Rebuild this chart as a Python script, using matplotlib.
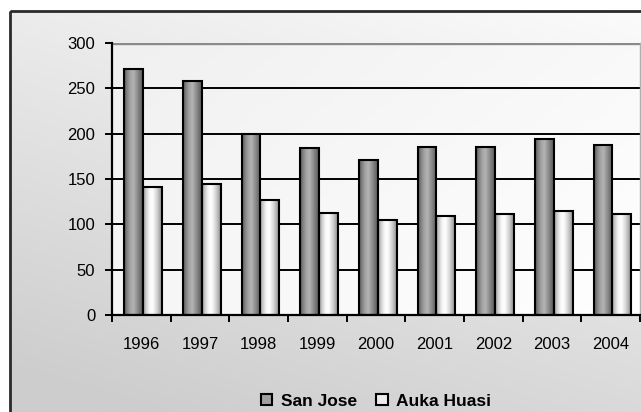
import numpy as np
import matplotlib
matplotlib.use('Agg')
import matplotlib.pyplot as plt
from matplotlib.colors import LinearSegmentedColormap
from matplotlib.patches import Rectangle, Patch

years = ['1996', '1997', '1998', '1999', '2000', '2001', '2002', '2003', '2004']
san_jose = [271, 258, 200, 184, 171, 185, 185, 194, 187]
auka_huasi = [141, 144, 127, 113, 105, 109, 111, 115, 111]
series_names = ['San Jose', 'Auka Huasi']

plt.rcParams['font.family'] = ['Liberation Sans', 'DejaVu Sans']

W, H = 641, 412
fig = plt.figure(figsize=(W / 100, H / 100), dpi=100)
fig.patch.set_facecolor('white')

###background of the chart area, diagonal gradient###
bg = fig.add_axes([0, 0, 1, 1], zorder=0)
bg.set_xlim(0, W)
bg.set_ylim(H, 0)
bg.axis('off')
gx, gy = np.meshgrid(np.linspace(0, 1, 200), np.linspace(0, 1, 200))
grad = np.clip(0.75 * gy + 0.35 * (1 - gx), 0, 1)
bg_cmap = LinearSegmentedColormap.from_list('bg', ['#fcfcfc', '#cdcdcd'])
bg.imshow(grad, extent=[10, W + 40, H + 20, 11], cmap=bg_cmap, aspect='auto',
          interpolation='bilinear', zorder=0)
bg.add_patch(Rectangle((10, 11), W + 40, H + 20, facecolor='none',
                       edgecolor='#2a2a2a', linewidth=2, zorder=2))
bg.set_xlim(0, W)
bg.set_ylim(H, 0)

###plot area###
left, right, top, bottom = 112, 640, 43, 315
ax = fig.add_axes([left / W, 1 - bottom / H, (right - left) / W, (bottom - top) / H], zorder=1)
ax.set_facecolor('none')

# plot area faint gradient
pa = np.clip(0.6 * (1 - gx) + 0.4 * (1 - gy), 0, 1)
pa_cmap = LinearSegmentedColormap.from_list('pa', ['#ffffff', '#f0f0f0'])

x = np.arange(len(years))
w = 0.32
off = 0.03

sj_cmap = LinearSegmentedColormap.from_list('sj', ['#555555', '#858585', '#a4a4a4', '#b4b4b4',
                                                   '#959595', '#777777', '#595959'])
ah_cmap = LinearSegmentedColormap.from_list('ah', ['#9c9c9c', '#cfcfcf', '#f6f6f6', '#ffffff',
                                                   '#e2e2e2', '#bdbdbd', '#8a8a8a'])
hgrad = np.linspace(0, 1, 64).reshape(1, -1)

ax.imshow(pa, extent=[-0.5, 8.5, 0, 300], cmap=pa_cmap, aspect='auto',
          interpolation='bilinear', zorder=0)

for vals, pos, cm in [(san_jose, x - w / 2 + off, sj_cmap), (auka_huasi, x + w / 2 + off, ah_cmap)]:
    bars = ax.bar(pos, vals, w, facecolor='none', edgecolor='black', linewidth=1.5, zorder=4)
    for b in bars:
        bx, by = b.get_x(), b.get_y()
        im = ax.imshow(hgrad, extent=[bx, bx + b.get_width(), by, by + b.get_height()],
                       cmap=cm, aspect='auto', interpolation='bilinear', zorder=3)
        im.set_clip_path(b)

ax.set_xlim(-0.5, 8.5)
ax.set_ylim(0, 300)

for v in [50, 100, 150, 200, 250]:
    ax.axhline(v, color='black', linewidth=1.4, zorder=2)
ax.axhline(300, color='#8a8a8a', linewidth=2.4, zorder=2)

ax.spines['top'].set_visible(False)
ax.spines['right'].set_color('#b0b0b0')
ax.spines['right'].set_linewidth(1)
ax.spines['left'].set_linewidth(1.6)
ax.spines['bottom'].set_linewidth(1.6)
ax.spines['left'].set_zorder(5)
ax.spines['bottom'].set_zorder(5)

ax.set_yticks(np.arange(0, 301, 50))
ax.tick_params(axis='y', direction='out', length=5, width=1.4, pad=7, labelsize=12)
ax.set_xticks(np.arange(-0.5, 9, 1))
ax.set_xticklabels([])
ax.set_xticks(x, minor=True)
ax.set_xticklabels(years, minor=True)
ax.tick_params(axis='x', which='major', direction='out', length=5, width=1.4)
ax.tick_params(axis='x', which='minor', length=0, pad=16, labelsize=12)

handles = [Patch(facecolor='#a0a0a0', edgecolor='black', linewidth=1.5),
           Patch(facecolor='#ececec', edgecolor='black', linewidth=1.5)]
leg = fig.legend(handles, series_names, loc='center', bbox_to_anchor=(376 / W, 1 - 401 / H),
                 ncol=2, frameon=False, handlelength=0.66, handleheight=0.66,
                 handletextpad=0.5, columnspacing=1.1, prop={'weight': 'bold', 'size': 12.5})

plt.savefig('out.png', dpi=100)
